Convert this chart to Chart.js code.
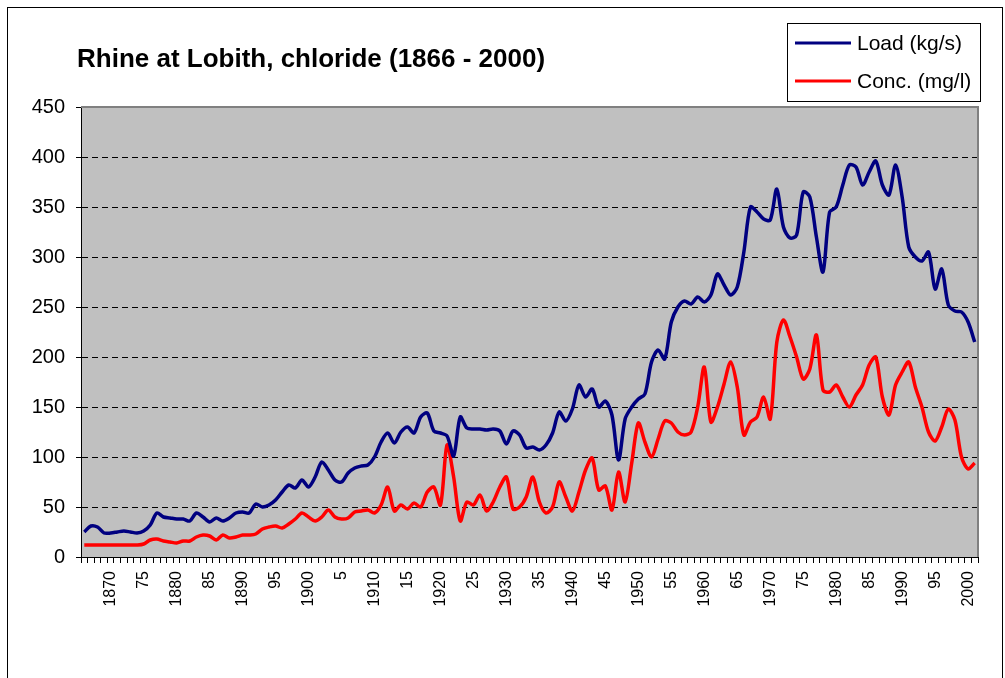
<!DOCTYPE html>
<html>
<head>
<meta charset="utf-8">
<script src="https://cdn.jsdelivr.net/npm/chart.js@4.4.0/dist/chart.umd.min.js"></script>
<style>
  html, body { margin: 0; padding: 0; background: #fff; }
  canvas { display: block; }
</style>
</head>
<body>
<canvas id="graficoRhine" width="1005" height="678"></canvas>
<script>
const TITULO = "Rhine at Lobith, chloride (1866 - 2000)";

// anos 1866 - 2001 (uma categoria por ano)
const anos = [];
for (let a = 1866; a <= 2001; a++) anos.push(a);

// Load (kg/s)
const carga = [
  25, 31, 30, 24, 24, 25, 26, 25, 24, 26,      // 1866-1875
  32, 44, 40, 39, 38, 38, 36, 44, 40, 35,      // 1876-1885
  39, 36, 39, 44, 45, 44, 53, 50, 52, 57,      // 1886-1895
  65, 72, 69, 77, 70, 80, 95, 87, 77, 75,      // 1896-1905
  84, 89, 91, 92, 100, 115, 124, 114, 125, 130, // 1906-1915
  124, 140, 144, 126, 124, 121, 101, 140, 129, 128, // 1916-1925
  128, 127, 128, 126, 113, 126, 122, 109, 110, 107, // 1926-1935
  112, 124, 145, 136, 148, 172, 160, 168, 150, 156, // 1936-1945
  142, 97, 138, 150, 158, 163, 195, 207, 198, 235,  // 1946-1955
  250, 256, 253, 260, 255, 262, 283, 272, 262, 270, // 1956-1965
  305, 350, 345, 338, 337, 368, 330, 319, 322, 365, // 1966-1975
  360, 320, 285, 345, 350, 372, 392, 390, 372, 385, // 1976-1985
  396, 372, 362, 392, 360, 310, 300, 296, 305, 268, // 1986-1995
  288, 252, 246, 245, 235, 215                      // 1996-2001
];

// Conc. (mg/l)
const concentracao = [
  12, 12, 12, 12, 12, 12, 12, 12, 12, 13,      // 1866-1875
  17, 18, 16, 15, 14, 16, 16, 20, 22, 21,      // 1876-1885
  17, 22, 19, 20, 22, 22, 23, 28, 30, 31,      // 1886-1895
  29, 33, 38, 44, 40, 36, 40, 47, 40, 38,      // 1896-1905
  39, 45, 46, 47, 44, 52, 70, 46, 52, 48,      // 1906-1915
  54, 50, 65, 70, 52, 112, 80, 36, 55, 52,     // 1916-1925
  62, 46, 55, 70, 80, 48, 50, 60, 80, 55,      // 1926-1935
  44, 50, 75, 60, 46, 65, 87, 99, 67, 71,      // 1936-1945
  47, 85, 55, 94, 134, 115, 100, 118, 136, 134, // 1946-1955
  125, 122, 125, 150, 190, 135, 150, 173, 195, 170, // 1956-1965
  122, 135, 140, 160, 138, 215, 237, 220, 200, 178, // 1966-1975
  188, 222, 167, 165, 172, 160, 150, 162, 172, 192, // 1976-1985
  200, 160, 142, 172, 185, 195, 170, 150, 125, 116, // 1986-1995
  130, 148, 137, 100, 88, 94                        // 1996-2001
];

const ticksY = [0, 50, 100, 150, 200, 250, 300, 350, 400, 450];

const FONTE = "Arial, 'Liberation Sans', sans-serif";

const moldura = {
  id: 'moldura',
  beforeDraw(chart) {
    const { ctx, chartArea: a } = chart;
    ctx.save();
    ctx.fillStyle = '#ffffff';
    ctx.fillRect(0, 0, chart.width, chart.height);
    ctx.fillStyle = '#c0c0c0';
    ctx.fillRect(a.left, a.top, a.right - a.left, a.bottom - a.top);
    ctx.restore();
  },
  beforeDatasetsDraw(chart) {
    const { ctx, chartArea: a } = chart;
    ctx.save();
    ctx.strokeStyle = '#808080';
    ctx.lineWidth = 2;
    ctx.beginPath();
    ctx.moveTo(a.left, a.top);
    ctx.lineTo(a.right, a.top);
    ctx.lineTo(a.right, a.bottom);
    ctx.stroke();
    ctx.restore();
  },
  afterDraw(chart) {
    const { ctx } = chart;
    ctx.save();
    // borda externa
    ctx.strokeStyle = '#000';
    ctx.lineWidth = 1;
    ctx.strokeRect(7.5, 7.5, 995, 700);

    // titulo
    ctx.fillStyle = '#000';
    ctx.font = 'bold 26px ' + FONTE;
    ctx.textBaseline = 'alphabetic';
    ctx.textAlign = 'left';
    ctx.fillText(TITULO, 77, 67);

    // legenda
    ctx.fillStyle = '#fff';
    ctx.fillRect(787.5, 23.5, 193, 78);
    ctx.strokeStyle = '#000';
    ctx.strokeRect(787.5, 23.5, 193, 78);
    ctx.font = '21px ' + FONTE;
    ctx.textBaseline = 'middle';
    chart.data.datasets.forEach((ds, i) => {
      const y = 43 + i * 38;
      ctx.strokeStyle = ds.borderColor;
      ctx.lineWidth = 3;
      ctx.beginPath();
      ctx.moveTo(795, y);
      ctx.lineTo(851, y);
      ctx.stroke();
      ctx.fillStyle = '#000';
      ctx.fillText(ds.label, 857, y + 1);
    });
    ctx.restore();
  }
};

const ctxLinhas = document.getElementById('graficoRhine').getContext('2d');
new Chart(ctxLinhas, {
  type: 'line',
  data: {
    labels: anos,
    datasets: [{
      label: 'Load (kg/s)',
      data: carga,
      borderColor: '#000080',
      borderWidth: 3.5,
      pointRadius: 0,
      tension: 0.3,
      fill: false
    }, {
      label: 'Conc. (mg/l)',
      data: concentracao,
      borderColor: '#ff0000',
      borderWidth: 3.5,
      pointRadius: 0,
      tension: 0.3,
      fill: false
    }]
  },
  options: {
    responsive: false,
    animation: false,
    devicePixelRatio: 1,
    layout: { padding: { left: 0, right: 27, top: 107, bottom: 0 } },
    plugins: {
      legend: { display: false },
      title: { display: false },
      tooltip: { enabled: false }
    },
    scales: {
      x: {
        type: 'category',
        offset: true,
        afterFit: (s) => { s.height = 121; },
        grid: {
          offset: true,
          drawOnChartArea: false,
          drawTicks: true,
          tickLength: 6,
          tickColor: '#000',
          color: '#000'
        },
        border: { color: '#000', width: 1 },
        ticks: {
          autoSkip: false,
          minRotation: 90,
          maxRotation: 90,
          padding: 8,
          color: '#000',
          font: { family: FONTE, size: 16 },
          callback: function (valor) {
            const ano = this.getLabelForValue(valor);
            if (ano % 5 !== 0) return '';
            return ano % 10 === 0 ? String(ano) : String(ano % 100);
          }
        }
      },
      y: {
        min: 0,
        max: 450,
        afterFit: (s) => { s.width = 81; },
        afterBuildTicks: (s) => { s.ticks = ticksY.map(v => ({ value: v })); },
        grid: {
          color: (c) => (c.tick && (c.tick.value === 0 || c.tick.value === 450)) ? 'rgba(0,0,0,0)' : '#000',
          lineWidth: 1,
          tickLength: 5,
          tickColor: '#000'
        },
        border: { color: '#000', width: 1, dash: [6, 4] },
        ticks: {
          padding: 11,
          color: '#000',
          font: { family: FONTE, size: 20 }
        }
      }
    }
  },
  plugins: [moldura]
});
</script>
</body>
</html>
